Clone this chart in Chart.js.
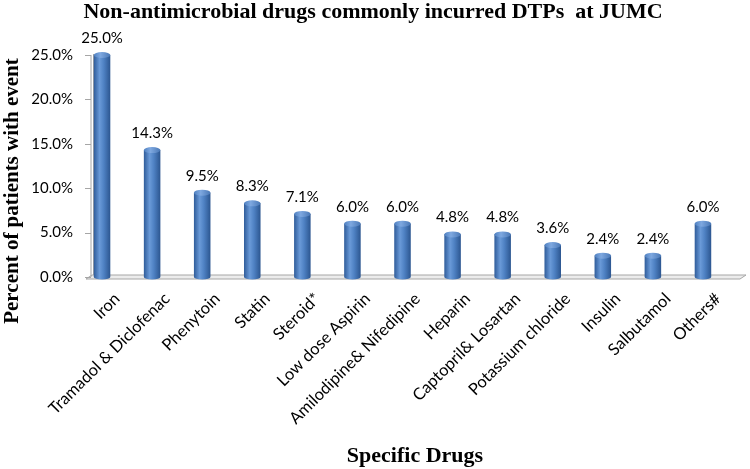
<!DOCTYPE html>
<html>
<head>
<meta charset="utf-8">
<script src="https://cdn.jsdelivr.net/npm/chart.js@4"></script>
<style>
  html, body { margin: 0; padding: 0; background: #fff; }
  #wrap { width: 750px; height: 469px; position: relative; }
</style>
</head>
<body>
<div id="wrap"><canvas id="dtpChart"></canvas></div>
<script>
// Chart data
const drugs = ["Iron", "Tramadol & Diclofenac", "Phenytoin", "Statin", "Steroid*", "Low dose Aspirin",
  "Amilodipine& Nifedipine", "Heparin", "Captopril& Losartan", "Potassium chloride", "Insulin", "Salbutamol", "Others#"];
const percents = [25.0, 14.3, 9.5, 8.3, 7.1, 6.0, 6.0, 4.8, 4.8, 3.6, 2.4, 2.4, 6.0];
const yTicks = [0, 5, 10, 15, 20, 25];

const titleText = "Non-antimicrobial drugs commonly incurred DTPs  at JUMC";
const yTitle = "Percent of patients with event";
const xTitle = "Specific Drugs";

const labelFont = "Lato, 'Open Sans', sans-serif";
const serif = "'Liberation Serif', 'DejaVu Serif', serif";

// floor + back wall + y tick marks (drawn before bars)
const wallPlugin = {
  id: "wall",
  beforeDatasetsDraw(chart) {
    const { ctx, chartArea: a, scales: { y } } = chart;
    const wx = a.left + 15;
    ctx.save();
    // floor slab
    ctx.fillStyle = "#ececec";
    ctx.strokeStyle = "#a6a6a6";
    ctx.lineWidth = 1;
    ctx.beginPath();
    ctx.moveTo(wx, a.bottom - 2);
    ctx.lineTo(a.right + 18, a.bottom - 2);
    ctx.lineTo(a.right + 12, a.bottom + 2);
    ctx.lineTo(wx - 6, a.bottom + 2);
    ctx.closePath();
    ctx.fill();
    ctx.stroke();
    // back wall edge
    ctx.beginPath();
    ctx.moveTo(wx - 1, y.getPixelForValue(25));
    ctx.lineTo(wx - 1, a.bottom);
    ctx.moveTo(wx + 1.5, y.getPixelForValue(25) - 1);
    ctx.lineTo(wx + 1.5, a.bottom - 2);
    ctx.stroke();
    // tick marks
    yTicks.forEach(v => {
      const py = Math.round(y.getPixelForValue(v)) + 0.5;
      ctx.beginPath();
      ctx.moveTo(wx - 7, py);
      ctx.lineTo(wx - 1, py);
      ctx.stroke();
    });
    ctx.restore();
  }
};

// cylinder caps, value labels and titles
const decoPlugin = {
  id: "deco",
  afterDatasetsDraw(chart) {
    const { ctx } = chart;
    const meta = chart.getDatasetMeta(0);
    ctx.save();
    meta.data.forEach((bar, i) => {
      const p = bar.getProps(["x", "y", "width", "base"], true);
      const rx = p.width / 2;
      // top cap
      const g = ctx.createLinearGradient(p.x - rx, 0, p.x + rx, 0);
      g.addColorStop(0, "#4f80c0");
      g.addColorStop(0.4, "#7ea8e0");
      g.addColorStop(1, "#4a78b6");
      ctx.fillStyle = g;
      ctx.beginPath();
      ctx.ellipse(p.x, p.y, rx, 3, 0, 0, Math.PI * 2);
      ctx.fill();
      // bottom round
      ctx.fillStyle = bar.options.backgroundColor;
      ctx.beginPath();
      ctx.ellipse(p.x, p.base, rx, 2.5, 0, 0, Math.PI);
      ctx.fill();
      // value label
      ctx.fillStyle = "#000";
      ctx.font = "15px " + labelFont;
      ctx.textAlign = "center";
      ctx.textBaseline = "alphabetic";
      ctx.fillText(percents[i].toFixed(1) + "%", p.x, p.y - 12);
    });

    ctx.fillStyle = "#000";
    ctx.font = "bold 22px " + serif;
    ctx.textAlign = "center";
    ctx.fillText(titleText, 373, 18);

    ctx.fillText(xTitle, 415, 462);

    ctx.save();
    ctx.translate(18, 191);
    ctx.rotate(-Math.PI / 2);
    ctx.font = "bold 21px " + serif;
    ctx.fillText(yTitle, 0, 0);
    ctx.restore();
    ctx.restore();
  }
};

document.addEventListener("DOMContentLoaded", function () {
  const ctx = document.getElementById("dtpChart").getContext("2d");

  new Chart(ctx, {
    type: "bar",
    data: {
      labels: drugs,
      datasets: [{
        data: percents,
        backgroundColor: (c) => {
          const chart = c.chart;
          if (!chart.chartArea || c.type !== "data") return "#4a7ebb";
          const xs = chart.scales.x;
          const x = xs.getPixelForValue(c.dataIndex);
          const half = (xs.width / drugs.length) * 0.33 / 2;
          const g = chart.ctx.createLinearGradient(x - half, 0, x + half, 0);
          g.addColorStop(0, "#2f5c9a");
          g.addColorStop(0.35, "#6a9ad8");
          g.addColorStop(0.6, "#4f82c4");
          g.addColorStop(1, "#2c5690");
          return g;
        },
        borderWidth: 0,
        categoryPercentage: 1,
        barPercentage: 0.33
      }]
    },
    options: {
      responsive: true,
      maintainAspectRatio: false,
      animation: false,
      layout: { padding: { top: 55, right: 22, left: 0, bottom: 0 } },
      plugins: {
        legend: { display: false },
        tooltip: { enabled: false }
      },
      scales: {
        x: {
          grid: { display: false, drawTicks: false },
          border: { display: false },
          ticks: {
            autoSkip: false,
            maxRotation: 45,
            minRotation: 45,
            labelOffset: 15,
            padding: 12,
            color: "#000",
            font: { family: labelFont, size: 16.5 }
          },
          afterFit(scale) { scale.height = 192; }
        },
        y: {
          min: 0,
          max: 25,
          grid: { display: false, drawTicks: false },
          border: { display: false },
          ticks: {
            stepSize: 5,
            padding: 4,
            color: "#000",
            font: { family: labelFont, size: 15 },
            callback: (v) => v.toFixed(1) + "%"
          },
          afterFit(scale) { scale.width = 77; }
        }
      }
    },
    plugins: [wallPlugin, decoPlugin]
  });
});
</script>
</body>
</html>
